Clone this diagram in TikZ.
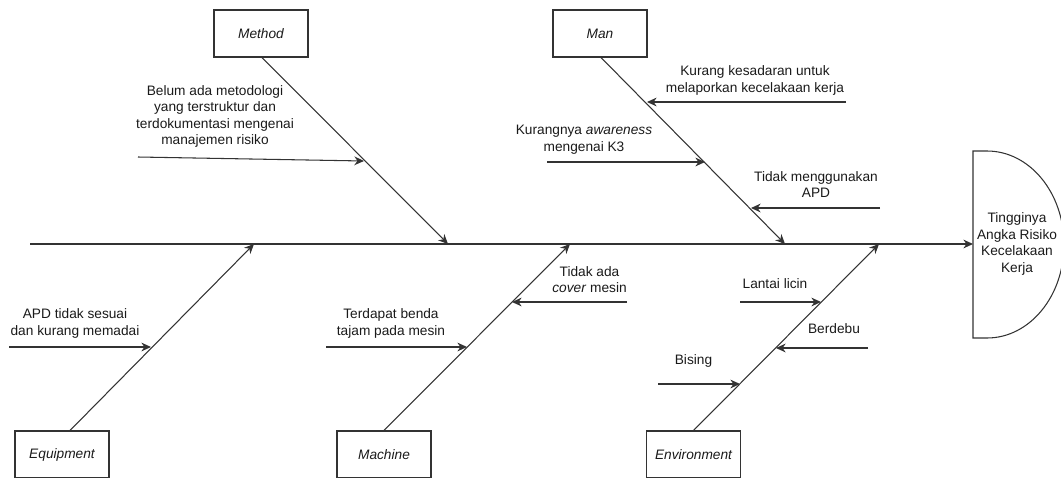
\documentclass[tikz,border=0pt]{standalone}
\usepackage{fontspec}
\setmainfont{Liberation Sans}
\usetikzlibrary{arrows.meta}
\definecolor{strokecolor}{HTML}{333333}
\definecolor{textcolor}{HTML}{1A1A1A}

\begin{document}
\begin{tikzpicture}[x=0.02cm, y=-0.02cm,
    catbox/.style={draw=strokecolor, line width=0.6pt, minimum width=1.88cm,
      minimum height=0.94cm, inner sep=0pt, text=textcolor,
      font=\fontsize{7.8}{9.4}\selectfont\itshape},
    lbl/.style={align=center, inner sep=0pt, text=textcolor,
      font=\fontsize{7.8}{9.4}\selectfont},
    bone/.style={draw=strokecolor, line width=0.6pt,
      -{Stealth[length=5.5pt, width=5pt]}}]
  \useasboundingbox (0,0) rectangle (1061,477);
  \clip (0,0) rectangle (1061,477);
  % Head
  \draw[strokecolor, line width=0.6pt]
    (973,151) -- (987,151) .. controls (1029.5,151) and (1064,192.6) .. (1064,244.5)
    .. controls (1064,296.4) and (1029.5,338) .. (987,338) -- (973,338) -- cycle;
  \node[lbl] (head) at (1017,244) {Tingginya\\Angka Risiko\\Kecelakaan\\Kerja};
  % Spine
  \coordinate (tail) at (30,244);
  \coordinate (hd) at (973,244);
  \draw[bone] (tail) -- (hd);
  % Category boxes
  \node[catbox] (method) at (261,33.5) {Method};
  \node[catbox] (man) at (600,33.5) {Man};
  \node[catbox] (equip) at (62,454.5) {Equipment};
  \node[catbox] (machine) at (384,454.5) {Machine};
  \node[catbox] (env) at (693.5,454.5) {Environment};
  % Bones
  \coordinate (mt) at (448,244);
  \coordinate (mn) at (785,244);
  \coordinate (eq) at (254,244);
  \coordinate (mc) at (570,244);
  \coordinate (ev) at (879,244);
  \draw[bone] ([xshift=0.02cm]method.south) -- (mt);
  \draw[bone] ([xshift=0.02cm]man.south) -- (mn);
  \draw[bone] ([xshift=0.16cm]equip.north) -- (eq);
  \draw[bone] (machine.north) -- (mc);
  \draw[bone] (env.north) -- (ev);
  % Causes: Method
  \node[lbl] (c1) at (215,116.5) {Belum ada metodologi\\yang terstruktur dan\\terdokumentasi mengenai\\manajemen risiko};
  \coordinate (c1s) at (138,157);
  \coordinate (c1e) at (364,161);
  \draw[bone] (c1s) -- (c1e);
  % Causes: Man
  \node[lbl] (c2) at (755,80.5) {Kurang kesadaran untuk\\melaporkan kecelakaan kerja};
  \coordinate (c2s) at (846,102);
  \coordinate (c2e) at (647,102);
  \draw[bone] (c2s) -- (c2e);
  \node[lbl] (c3) at (584,139.5) {Kurangnya \textit{awareness}\\mengenai K3};
  \coordinate (c3s) at (547,162);
  \coordinate (c3e) at (705,162);
  \draw[bone] (c3s) -- (c3e);
  \node[lbl] (c4) at (816,184.5) {Tidak menggunakan\\APD};
  \coordinate (c4s) at (880,208);
  \coordinate (c4e) at (751,208);
  \draw[bone] (c4s) -- (c4e);
  % Causes: Equipment
  \node[lbl] (c5) at (75,323.5) {APD tidak sesuai\\dan kurang memadai};
  \coordinate (c5s) at (9,347);
  \coordinate (c5e) at (151,347);
  \draw[bone] (c5s) -- (c5e);
  % Causes: Machine
  \node[lbl] (c6) at (391,323.5) {Terdapat benda\\tajam pada mesin};
  \coordinate (c6s) at (326,347);
  \coordinate (c6e) at (467,347);
  \draw[bone] (c6s) -- (c6e);
  \node[lbl] (c7) at (589.5,279.5) {Tidak ada\\\textit{cover} mesin};
  \coordinate (c7s) at (627,302);
  \coordinate (c7e) at (512,302);
  \draw[bone] (c7s) -- (c7e);
  % Causes: Environment
  \node[lbl] (c8) at (775,284) {Lantai licin};
  \coordinate (c8s) at (740,302);
  \coordinate (c8e) at (821,302);
  \draw[bone] (c8s) -- (c8e);
  \node[lbl] (c9) at (834,329) {Berdebu};
  \coordinate (c9s) at (868,348);
  \coordinate (c9e) at (776,348);
  \draw[bone] (c9s) -- (c9e);
  \node[lbl] (c10) at (693.5,361) {Bising};
  \coordinate (c10s) at (658,384);
  \coordinate (c10e) at (740,384);
  \draw[bone] (c10s) -- (c10e);
\end{tikzpicture}
\end{document}
